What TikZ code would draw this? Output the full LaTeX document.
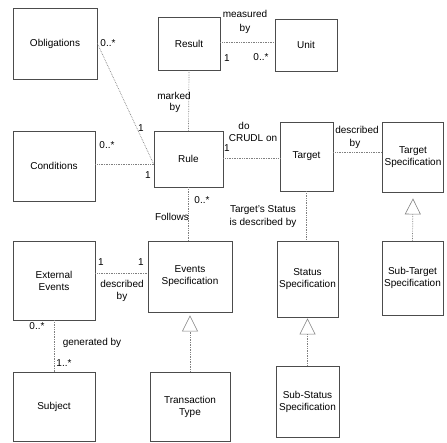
\documentclass[tikz,border=0pt]{standalone}
\usepackage{fontspec}
\setmainfont{Liberation Sans}
\usetikzlibrary{arrows.meta}
\begin{document}
\begin{tikzpicture}[x=1pt,y=-1pt,
  box/.style={draw=black!70, line width=0.8pt, align=center, inner sep=0.5pt, font=\fontsize{10}{12}\selectfont},
  conn/.style={draw=black!50, densely dotted, line width=0.7pt},
  lbl/.style={font=\fontsize{10}{12}\selectfont, inner sep=0pt, align=center},
  gen/.style={conn, -{Triangle[open, length=16pt, width=16pt, line width=0.6pt]}}
]
\useasboundingbox (0,0) rectangle (447,443);

% boxes
\node[box, minimum width=84pt, minimum height=71pt] (obl) at (55,43.5) {Obligations};
\node[box, minimum width=62pt, minimum height=53pt] (res) at (189,43.5) {Result};
\node[box, minimum width=62pt, minimum height=52pt] (unit) at (306,45) {Unit};
\node[box, minimum width=82pt, minimum height=70pt] (cond) at (54,166) {Conditions};
\node[box, minimum width=69pt, minimum height=56pt] (rule) at (188.5,159) {Rule};
\node[box, minimum width=53pt, minimum height=69pt] (tgt) at (306.5,156.5) {Target};
\node[box, minimum width=61pt, minimum height=70pt] (ts) at (413,157) {Target\\Specification};
\node[box, minimum width=82pt, minimum height=79pt] (ext) at (54,280.5) {External\\Events};
\node[box, minimum width=84pt, minimum height=71pt] (evs) at (190,276.5) {Events\\Specification};
\node[box, minimum width=61pt, minimum height=76pt] (ss) at (307.5,279) {Status\\Specification};
\node[box, minimum width=61pt, minimum height=74pt] (sts) at (412.5,278) {Sub-Target\\Specification};
\node[box, minimum width=82pt, minimum height=69pt] (subj) at (54,406.5) {Subject};
\node[box, minimum width=80pt, minimum height=69pt] (tt) at (190,406.5) {Transaction\\Type};
\node[box, minimum width=63pt, minimum height=71pt] (sss) at (307.5,401.5) {Sub-Status\\Specification};

% helper coordinates
\coordinate (yRU) at (0,42);
\coordinate (yCR) at (0,164);
\coordinate (yRT) at (0,158);
\coordinate (yTS) at (0,152);
\coordinate (yEE) at (0,273);

% connectors
\draw[conn] (res.east|-yRU) -- (unit.west|-yRU);
\draw[conn] (res.south) -- (rule.north);
\draw[conn] (obl.east) -- (rule.west|-yCR);
\draw[conn] (cond.east|-yCR) -- (rule.west|-yCR);
\draw[conn] (rule.east|-yRT) -- (tgt.west|-yRT);
\draw[conn] (tgt.east|-yTS) -- (ts.west|-yTS);
\draw[conn] (rule.south) -- (rule.south|-evs.north);
\draw[conn] (tgt.south) -- (tgt.south|-ss.north);
\draw[conn] (ext.east|-yEE) -- (evs.west|-yEE);
\draw[conn] (ext.south) -- (subj.north);
\draw[gen] (sts.north) -- ([yshift=-6pt]ts.south);
\draw[gen] (tt.north) -- ([yshift=-3pt]evs.south);
\draw[gen] (sss.north) -- ([yshift=-1pt]ss.south);

% labels
\node[lbl] (l1) at (108,43) {0..*};
\node[lbl] (l2) at (245,14) {measured};
\node[lbl] (l3) at (245,29) {by};
\node[lbl] (l4) at (227,58) {1};
\node[lbl] (l5) at (261,57) {0..*};
\node[lbl] (l6) at (174,96) {marked};
\node[lbl] (l7) at (175,108) {by};
\node[lbl] (l8) at (141,128) {1};
\node[lbl] (l9) at (107,145) {0..*};
\node[lbl] (l10) at (148,175) {1};
\node[lbl] (l11) at (227,148) {1};
\node[lbl] (l12) at (244,126) {do};
\node[lbl] (l13) at (253,138) {CRUDL on};
\node[lbl] (l14) at (357,130) {described};
\node[lbl] (l15) at (355,144) {by};
\node[lbl] (l16) at (202,200) {0..*};
\node[lbl] (l17) at (172,217) {Follows};
\node[lbl] (l18) at (263,210) {Target's Status};
\node[lbl] (l19) at (263,223) {is described by};
\node[lbl] (l20) at (101,262) {1};
\node[lbl] (l21) at (141,262) {1};
\node[lbl] (l22) at (122,284) {described};
\node[lbl] (l23) at (122,297) {by};
\node[lbl] (l24) at (37,326) {0..*};
\node[lbl] (l25) at (92,343) {generated by};
\node[lbl] (l26) at (64,363) {1..*};
\end{tikzpicture}
\end{document}
